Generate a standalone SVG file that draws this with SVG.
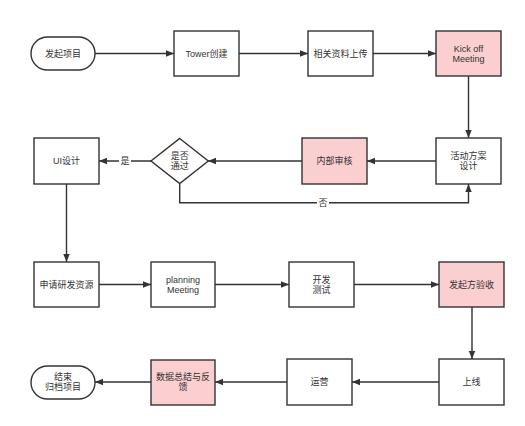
<svg xmlns="http://www.w3.org/2000/svg" width="525" height="426" viewBox="0 0 525 426">
<defs>
<style>
.box{fill:#ffffff;stroke:#333333;stroke-width:1.4}
.pink{fill:#fbcfd0;stroke:#333333;stroke-width:1.4}
.t{font-family:"Liberation Sans","Noto Sans CJK SC",sans-serif;font-size:9px;fill:#333333;text-anchor:middle}
.c{fill:none;stroke:#333333;stroke-width:1.4}
.lbl{fill:#ffffff}
</style>
<marker id="arr" viewBox="0 0 10 10" refX="10" refY="5" markerWidth="8" markerHeight="8" markerUnits="userSpaceOnUse" orient="auto">
<path d="M0,1 L10,5 L0,9 Z" fill="#333333"/>
</marker>
</defs>
<rect width="525" height="426" fill="#ffffff"/>
<g id="connectors">
<path class="c" marker-end="url(#arr)" d="M95,53.5 L174,53.5"/>
<path class="c" marker-end="url(#arr)" d="M239,53.5 L308,53.5"/>
<path class="c" marker-end="url(#arr)" d="M373,53.5 L436,53.5"/>
<path class="c" marker-end="url(#arr)" d="M468.5,76 L468.5,138"/>
<path class="c" marker-end="url(#arr)" d="M436,161 L367,161"/>
<path class="c" marker-end="url(#arr)" d="M302,161 L208,161"/>
<path class="c" marker-end="url(#arr)" d="M151,161 L99,161"/>
<path class="c" marker-end="url(#arr)" d="M179.7,183.5 L179.7,202.7 L468.5,202.7 L468.5,184"/>
<path class="c" marker-end="url(#arr)" d="M66.5,184 L66.5,262"/>
<path class="c" marker-end="url(#arr)" d="M99,284.5 L151,284.5"/>
<path class="c" marker-end="url(#arr)" d="M215,284.5 L289,284.5"/>
<path class="c" marker-end="url(#arr)" d="M354,284.5 L439,284.5"/>
<path class="c" marker-end="url(#arr)" d="M472,307 L472,359"/>
<path class="c" marker-end="url(#arr)" d="M439,382 L352,382"/>
<path class="c" marker-end="url(#arr)" d="M287,382 L215,382"/>
<path class="c" marker-end="url(#arr)" d="M151,382 L95,382"/>
<rect class="lbl" x="119" y="155" width="12" height="12"/>
<text class="t" x="125" y="164.2">是</text>
<rect class="lbl" x="317" y="197" width="12" height="12"/>
<text class="t" x="323" y="206">否</text>
</g>
<g id="start"><rect class="box" x="31" y="37" width="64" height="33" rx="16.5"/><text class="t" x="63" y="56.7">发起项目</text></g>
<g id="tower"><rect class="box" x="174" y="31" width="65" height="45"/><text class="t" x="206.5" y="56.7">Tower创建</text></g>
<g id="upload"><rect class="box" x="308" y="31" width="65" height="45"/><text class="t" x="340.5" y="56.7">相关资料上传</text></g>
<g id="kickoff"><rect class="pink" x="436" y="31" width="65" height="45"/><text class="t" x="468.5" y="51.5">Kick off</text><text class="t" x="468.5" y="61.5">Meeting</text></g>
<g id="plan"><rect class="box" x="436" y="138" width="65" height="46"/><text class="t" x="468.5" y="159">活动方案</text><text class="t" x="468.5" y="169">设计</text></g>
<g id="review"><rect class="pink" x="302" y="138" width="65" height="46"/><text class="t" x="334.5" y="164.2">内部审核</text></g>
<g id="decision"><path class="box" d="M179.7,138.5 L208.3,161 L179.7,183.5 L151,161 Z"/><text class="t" x="179.7" y="158.8">是否</text><text class="t" x="179.7" y="168.8">通过</text></g>
<g id="ui"><rect class="box" x="34" y="138" width="65" height="46"/><text class="t" x="66.5" y="164.2">UI设计</text></g>
<g id="apply"><rect class="box" x="34" y="262" width="65" height="45"/><text class="t" x="66.5" y="287.7">申请研发资源</text></g>
<g id="planning"><rect class="box" x="151" y="262" width="64" height="45"/><text class="t" x="183" y="282.5">planning</text><text class="t" x="183" y="292.5">Meeting</text></g>
<g id="dev"><rect class="box" x="289" y="262" width="65" height="45"/><text class="t" x="321.5" y="282.5">开发</text><text class="t" x="321.5" y="292.5">测试</text></g>
<g id="accept"><rect class="pink" x="439" y="262" width="65" height="45"/><text class="t" x="471.5" y="287.7">发起方验收</text></g>
<g id="online"><rect class="box" x="439" y="359" width="65" height="46"/><text class="t" x="471.5" y="385.2">上线</text></g>
<g id="ops"><rect class="box" x="287" y="359" width="65" height="46"/><text class="t" x="319.5" y="385.2">运营</text></g>
<g id="summary"><rect class="pink" x="151" y="360" width="64" height="45"/><text class="t" x="183" y="379.5">数据总结与反</text><text class="t" x="183" y="389.5">馈</text></g>
<g id="end"><rect class="box" x="31" y="366" width="64" height="33" rx="16.5"/><text class="t" x="63" y="380">结束</text><text class="t" x="63" y="390">归档项目</text></g>
</svg>
